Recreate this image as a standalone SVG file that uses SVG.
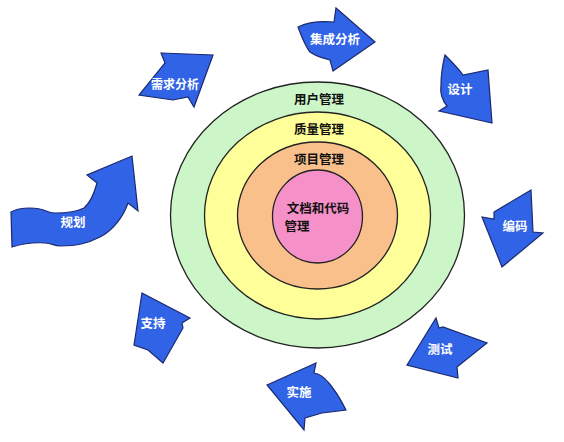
<svg xmlns="http://www.w3.org/2000/svg" width="564" height="442" viewBox="0 0 564 442">
<style>
.ring{stroke:#222;stroke-width:1.3}
.arr{fill:#3163e6;stroke:#1b2a70;stroke-width:1.2;stroke-linejoin:miter}
.lbl{font-family:"Noto Sans CJK SC","Noto Sans",sans-serif;font-weight:bold;font-size:12.5px;fill:#fff;text-anchor:middle}
.ctr{font-family:"Noto Sans CJK SC","Noto Sans",sans-serif;font-weight:bold;font-size:12.5px;fill:#111;text-anchor:middle}
</style>
<rect width="564" height="442" fill="#fff"/>
<g id="rings">
<ellipse id="ring-user" class="ring" cx="317.5" cy="215" rx="147" ry="133" fill="#ccf6c8"/>
<ellipse id="ring-quality" class="ring" cx="317.5" cy="215.5" rx="113" ry="103.5" fill="#ffff99"/>
<ellipse id="ring-project" class="ring" cx="317.5" cy="215.5" rx="80" ry="73.5" fill="#f9c08c"/>
<ellipse id="ring-doc" class="ring" cx="317.5" cy="216.5" rx="45" ry="46.5" fill="#f590c8"/>
<text class="ctr" x="319" y="104">用户管理</text>
<text class="ctr" x="319" y="134">质量管理</text>
<text class="ctr" x="319" y="164">项目管理</text>
<text class="ctr" x="318" y="213">文档和代码</text>
<text class="ctr" x="297" y="231">管理</text>
</g>
<g id="arrows">
<g id="n-guihua">
<path class="arr" d="M11,212 C18,208 30,207 40,209 C46,210 48,213 55,213 C66,213 76,212 84,208 C90,203 94,194 97,183 L87,175 L132,156 L138,211 L128,203 C124,215 114,230 100,237 C88,243 78,246 60,246 C54,246 52,243 45,243 C32,242 22,244 12,247 Z"/>
<text class="lbl" x="73" y="227">规划</text>
</g>
<g id="n-xuqiu">
<path class="arr" d="M161,53 L213,55 L194,107 L188,97 L173,100 L139,95 L165,63 Z"/>
<text class="lbl" x="175" y="89" style="font-size:12px">需求分析</text>
</g>
<g id="n-jicheng">
<path class="arr" d="M298,27 C308,22 320,21 334,22 L336,8 L375,42 L333,71 L330,60 C322,58 314,55 310,52 C305,46 301,35 298,27 Z"/>
<text class="lbl" x="335" y="44">集成分析</text>
</g>
<g id="n-sheji">
<path class="arr" d="M445,55 C452,62 458,68 463,75 L488,70 L492,123 L439,111 L447,106 C442,100 440,92 441,85 C441,72 443,63 445,55 Z"/>
<text class="lbl" x="460" y="94">设计</text>
</g>
<g id="n-bianma">
<path class="arr" d="M494,212 L531,190 L533,232 L543,233 L502,267 L482,217 L494,219 Z"/>
<text class="lbl" x="515" y="231">编码</text>
</g>
<g id="n-ceshi">
<path class="arr" d="M436,318 L439,328 L443,327 L487,343 L457,367 L458,378 L407,365 Z"/>
<text class="lbl" x="440" y="354">测试</text>
</g>
<g id="n-shishi">
<path class="arr" d="M267,385 L316,363 L314,373 C320,374 324,377 328,382 C335,390 341,400 346,410 C338,411 330,412 322,413 L305,418 L304,430 Z"/>
<text class="lbl" x="299" y="397">实施</text>
</g>
<g id="n-zhichi">
<path class="arr" d="M142,293 L190,318 L182,323 L183,328 L163,363 L148,350 L134,345 Z"/>
<text class="lbl" x="153" y="328">支持</text>
</g>
</g>
</svg>
